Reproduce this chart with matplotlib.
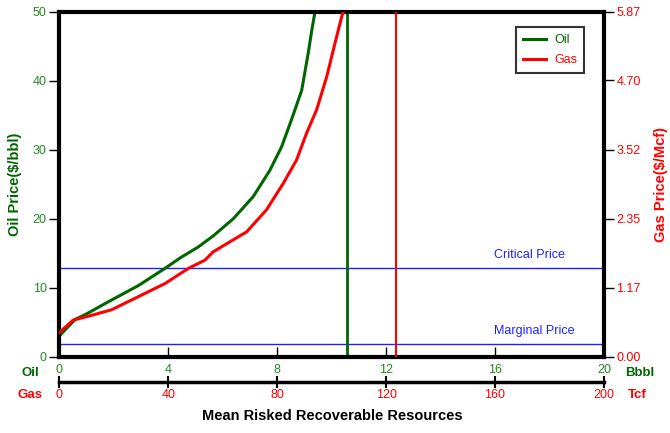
import matplotlib
matplotlib.use("Agg")
import matplotlib.pyplot as plt

plt.rcParams['font.family'] = ['Liberation Sans', 'DejaVu Sans']

# ---- data ----
oil_resources = [0, 0.58, 1.0, 1.68, 2.9, 3.88, 4.43, 5.1, 5.65, 6.39, 7.12, 7.73, 8.16, 8.53, 8.9, 9.14, 9.27, 9.39]  # Bbbl
oil_price = [3.0, 5.4, 6.2, 7.7, 10.3, 12.8, 14.3, 15.9, 17.5, 20.0, 23.2, 27.0, 30.4, 34.4, 38.6, 44.0, 47.3, 50.0]  # $/bbl

gas_resources = [0, 5.1, 11.9, 19.2, 29, 38.8, 47.4, 53.5, 56.5, 68.8, 76.1, 82.2, 87.1, 90.8, 94.5, 98.2, 101.2, 103.7, 104.3]  # Tcf
gas_price_oil_eq = [3.5, 5.3, 6.0, 6.8, 8.7, 10.6, 12.8, 14.0, 15.2, 18.1, 21.3, 25.1, 28.5, 32.4, 35.8, 40.6, 45.4, 49.3, 50.0]
gas_price = [v * 5.87 / 50.0 for v in gas_price_oil_eq]  # $/Mcf

oil_mean = 10.57      # Bbbl
gas_mean = 123.5      # Tcf
critical_price = 12.9  # $/bbl
marginal_price = 1.9   # $/bbl

oil_yticks = [0, 10, 20, 30, 40, 50]
gas_yticks = [0.00, 1.17, 2.35, 3.52, 4.70, 5.87]
oil_xticks = [0, 4, 8, 12, 16, 20]
gas_xticks = [0, 40, 80, 120, 160, 200]

GREEN = '#006600'
GREEN_T = '#228B22'
RED = '#ff0000'
BLUE = '#2020ff'

W, H = 670, 433
fig = plt.figure(figsize=(W / 100, H / 100), dpi=100)
L, R, T, B = 59.3, 604, 11.7, 356.7
rect = [L / W, 1 - B / H, (R - L) / W, (B - T) / H]

ax = fig.add_axes(rect)
ax.set_xlim(0, 20)
ax.set_ylim(0, 50)
for s in ax.spines.values():
    s.set_linewidth(3)
    s.set_color('black')

# gas axes overlay
axg = fig.add_axes(rect)
axg.patch.set_visible(False)
axg.set_xlim(0, 200)
axg.set_ylim(0, 5.87)
for k in ['top', 'left', 'right']:
    axg.spines[k].set_visible(False)
axg.spines['bottom'].set_position(('outward', 18))
axg.spines['bottom'].set_linewidth(2.5)

# lines on oil axes
ax.axhline(critical_price, color=BLUE, lw=1)
ax.axhline(marginal_price, color=BLUE, lw=1)
ax.text(15.96, critical_price + 0.9, 'Critical Price', color=BLUE, fontsize=9, ha='left', va='bottom')
ax.text(15.96, marginal_price + 0.9, 'Marginal Price', color=BLUE, fontsize=9, ha='left', va='bottom')

l_oil, = ax.plot(oil_resources, oil_price, color=GREEN, lw=2.2, label='Oil', clip_on=True)
ax.axvline(oil_mean, color=GREEN, lw=2)
l_gas, = axg.plot(gas_resources, gas_price, color=RED, lw=2.2, label='Gas', clip_on=True)
axg.axvline(gas_mean, color=RED, lw=1.5)

# oil ticks
ax.set_yticks(oil_yticks)
ax.set_yticklabels([str(v) for v in oil_yticks])
ax.tick_params(axis='y', direction='out', length=7, width=1, colors='black', labelcolor=GREEN_T, labelsize=9, pad=2)
ax.set_xticks(oil_xticks)
ax.set_xticklabels([str(v) for v in oil_xticks])
ax.tick_params(axis='x', direction='in', length=7, width=1, colors='black', labelcolor=GREEN_T, labelsize=9, pad=5)

# gas ticks
axg.yaxis.tick_right()
axg.set_yticks(gas_yticks)
axg.set_yticklabels(['%.2f' % v for v in gas_yticks])
axg.tick_params(axis='y', direction='out', length=7, width=1, colors='black', labelcolor=RED, labelsize=9, pad=2)
axg.set_xticks(gas_xticks)
axg.set_xticklabels([str(v) for v in gas_xticks])
axg.tick_params(axis='x', direction='inout', length=9, width=1.5, colors='black', labelcolor=RED, labelsize=9, pad=1)

# axis titles
fig.text(15 / W, 1 - 184 / H, 'Oil Price($/bbl)', rotation=90, color=GREEN, fontsize=10.5, fontweight='bold', ha='center', va='center')
fig.text(661 / W, 1 - 184 / H, 'Gas Price($/Mcf)', rotation=90, color=RED, fontsize=10.5, fontweight='bold', ha='center', va='center')
fig.text(332 / W, 1 - 416 / H, 'Mean Risked Recoverable Resources', color='black', fontsize=10.5, fontweight='bold', ha='center', va='center')
fig.text(30 / W, 1 - 373 / H, 'Oil', color=GREEN, fontsize=9.5, fontweight='bold', ha='center', va='center')
fig.text(30 / W, 1 - 395 / H, 'Gas', color=RED, fontsize=9.5, fontweight='bold', ha='center', va='center')
fig.text(640 / W, 1 - 373 / H, 'Bbbl', color=GREEN, fontsize=9.5, fontweight='bold', ha='center', va='center')
fig.text(637 / W, 1 - 395 / H, 'Tcf', color=RED, fontsize=9.5, fontweight='bold', ha='center', va='center')

# legend
leg = axg.legend(handles=[l_oil, l_gas], loc='upper left', bbox_to_anchor=(0.838, 0.955),
                 fontsize=9, frameon=True, fancybox=False, edgecolor='black',
                 handlelength=1.9, borderpad=0.55, labelspacing=0.65, handletextpad=0.6,
                 borderaxespad=0)
leg.get_frame().set_linewidth(1.5)
for txt, c in zip(leg.get_texts(), [GREEN, RED]):
    txt.set_color(c)

fig.savefig('out.png', dpi=100)
